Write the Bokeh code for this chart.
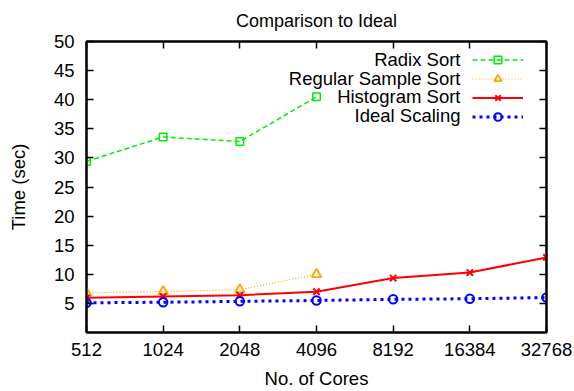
from bokeh.plotting import figure
from bokeh.models import (FixedTicker, LinearAxis, LogAxis, Legend, LegendItem, Label,
                          BasicTickFormatter, Range1d)
from bokeh.embed import file_html
from bokeh.resources import INLINE

# ---- data ----
cores = [512, 1024, 2048, 4096, 8192, 16384, 32768]
radix_cores = [512, 1024, 2048, 4096]
radix_sort = [29.4, 33.6, 32.8, 40.5]
sample_cores = [512, 1024, 2048, 4096]
regular_sample_sort = [6.8, 7.05, 7.35, 10.0]
histogram_sort = [5.95, 6.2, 6.4, 7.0, 9.35, 10.3, 12.9]
ideal_scaling = [5.1, 5.2, 5.35, 5.5, 5.7, 5.8, 6.0]
y_ticks = [5, 10, 15, 20, 25, 30, 35, 40, 45, 50]
series_names = ["Radix Sort", "Regular Sample Sort", "Histogram Sort", "Ideal Scaling"]
title_text = "Comparison to Ideal"

FONT = "Liberation Sans"
FS = "18.5px"

p = figure(width=574, height=391, x_axis_type="log", output_backend="svg",
           toolbar_location=None, x_range=Range1d(512, 32768), y_range=Range1d(0, 50),
           min_border_left=86, min_border_right=28, min_border_top=41, min_border_bottom=59)
p.background_fill_color = "white"
p.border_fill_color = "white"
p.grid.visible = False
p.outline_line_color = "black"
p.outline_line_width = 2

p.title.text = title_text
p.title.align = "center"
p.title.vertical_align = "top"
p.title.text_font = FONT
p.title.text_font_size = "18px"
p.title.text_font_style = "normal"
p.title.text_color = "black"
p.title.standoff = 17

def style_axis(ax, labels=True):
    ax.axis_line_color = "black"
    ax.axis_line_width = 2
    ax.major_tick_in = 7
    ax.major_tick_out = 0
    ax.major_tick_line_width = 1.5
    ax.major_tick_line_color = "black"
    ax.minor_tick_line_color = None
    ax.major_label_text_font = FONT
    ax.major_label_text_font_size = FS
    ax.major_label_text_color = "black"
    ax.axis_label_text_font = FONT
    ax.axis_label_text_font_size = FS
    ax.axis_label_text_font_style = "normal"
    ax.axis_label_text_color = "black"

xa = p.xaxis[0]
xa.ticker = FixedTicker(ticks=cores)
xa.formatter = BasicTickFormatter(use_scientific=False)
xa.axis_label = "No. of Cores"
style_axis(xa)
xa.major_label_standoff = 10
xa.axis_label_standoff = 9

ya = p.yaxis[0]
ya.ticker = FixedTicker(ticks=y_ticks)
ya.axis_label = "Time (sec)"
style_axis(ya)
ya.major_label_standoff = 12
ya.axis_label_standoff = 22

top_ax = LogAxis(ticker=FixedTicker(ticks=cores))
style_axis(top_ax, labels=False)
top_ax.major_label_overrides = {t: "" for t in cores}
top_ax.major_label_standoff = 0
p.add_layout(top_ax, "above")
right_ax = LinearAxis(ticker=FixedTicker(ticks=y_ticks))
style_axis(right_ax, labels=False)
right_ax.major_label_overrides = {t: "" for t in y_ticks}
right_ax.major_label_standoff = 0
p.add_layout(right_ax, "right")

# ---- series ----
green, orange, red, blue = "#00ee00", "#ffa500", "#ff0000", "#0000ff"
r1l = p.line(radix_cores, radix_sort, line_color=green, line_width=1.5, line_dash="5 3")
r1m = p.scatter(radix_cores, radix_sort, marker="square", size=7.5, fill_color=None,
                line_color=green, line_width=1.5)
r2l = p.line(sample_cores, regular_sample_sort, line_color=orange, line_width=1.2, line_dash="1 2")
r2m = p.scatter(sample_cores, regular_sample_sort, marker="triangle", size=9.5, fill_color=None,
                line_color=orange, line_width=1.8)
r3l = p.line(cores, histogram_sort, line_color=red, line_width=2)
r3m = p.scatter(cores, histogram_sort, marker="x", size=9, line_color=red, line_width=2)
r4l = p.line(cores, ideal_scaling, line_color=blue, line_width=3, line_dash="3 4")
r4m = p.scatter(cores, ideal_scaling, marker="circle", size=8.5, fill_color=None,
                line_color=blue, line_width=2)

legend = Legend(items=[LegendItem(label=" ", renderers=[r1l, r1m]),
                       LegendItem(label=" ", renderers=[r2l, r2m]),
                       LegendItem(label=" ", renderers=[r3l, r3m]),
                       LegendItem(label=" ", renderers=[r4l, r4m])],
                location="top_right", background_fill_alpha=0, border_line_color=None,
                glyph_width=51, glyph_height=19, label_height=19, label_width=14,
                label_standoff=0, spacing=0, margin=9, padding=0,
                label_text_font_size="8px")
p.add_layout(legend)

for i, name in enumerate(series_names):
    p.add_layout(Label(x=374, y=273 - i * 18.7, x_units="screen", y_units="screen",
                       text=name, text_align="right", text_baseline="middle",
                       text_font=FONT, text_font_size=FS, text_color="black"))

open("out.html", "w").write(file_html(p, INLINE))
